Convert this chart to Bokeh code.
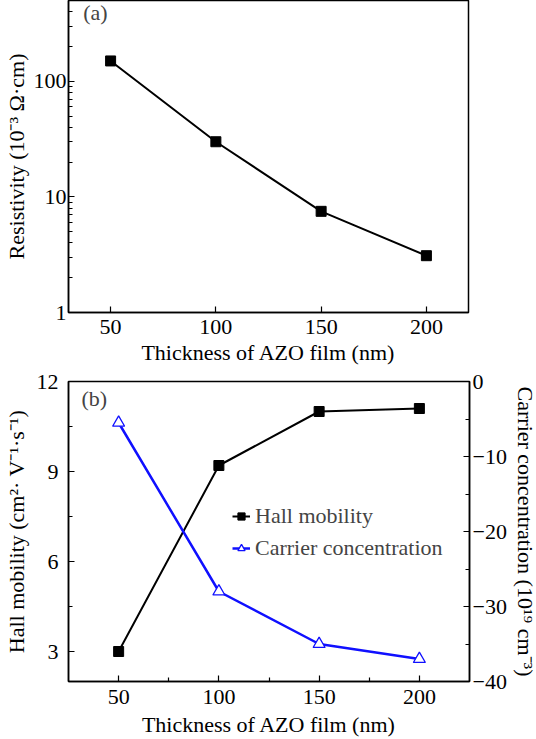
from bokeh.plotting import figure
from bokeh.layouts import column
from bokeh.models import (Range1d, LinearAxis, FixedTicker, PrintfTickFormatter,
                          Legend, LegendItem, Label)
from bokeh.embed import file_html
from bokeh.resources import INLINE

# ---- data ----
thickness = [50, 100, 150, 200]
resistivity = [150, 30, 7.5, 3.1]          # 10^-3 Ohm cm
hall_mobility = [3.0, 9.2, 11.0, 11.1]      # cm2 V-1 s-1
carrier_conc = [-5.5, -28.0, -35.0, -37.0]  # 10^19 cm-3

x_ticks = [50, 100, 150, 200]
x_minor = [75, 125, 175]
res_ticks = [1, 10, 100]
res_minor = [2, 3, 4, 5, 6, 7, 8, 9, 20, 30, 40, 50, 60, 70, 80, 90, 200, 300, 400, 500]
mob_ticks = [3, 6, 9, 12]
mob_minor = [4.5, 7.5, 10.5]
conc_ticks = [0, -10, -20, -30, -40]
conc_minor = [-5, -15, -25, -35]

FONT = "Liberation Serif"
FS = "22px"


def style_axis(ax):
    ax.axis_label_text_font = FONT
    ax.axis_label_text_font_size = FS
    ax.axis_label_text_font_style = "normal"
    ax.axis_label_text_color = "black"
    ax.major_label_text_font = FONT
    ax.major_label_text_font_size = FS
    ax.major_label_text_color = "black"
    ax.major_tick_in = 6
    ax.major_tick_out = 0
    ax.minor_tick_in = 4
    ax.minor_tick_out = 0
    ax.axis_line_color = "black"
    ax.axis_line_width = 1.5
    ax.major_tick_line_color = "black"
    ax.major_tick_line_width = 1.2
    ax.minor_tick_line_color = "black"
    ax.minor_tick_line_width = 1.2


# ---- top panel ----
p1 = figure(frame_width=400, frame_height=312, y_axis_type="log",
            x_range=Range1d(30, 220), y_range=Range1d(1, 500),
            output_backend="svg", toolbar_location=None,
            min_border_left=59, min_border_right=69,
            min_border_top=0, min_border_bottom=47)
p1.grid.visible = False
p1.outline_line_color = "black"
p1.outline_line_width = 1.5

p1.xaxis.ticker = FixedTicker(ticks=x_ticks, minor_ticks=[])
p1.yaxis.ticker = FixedTicker(ticks=res_ticks, minor_ticks=res_minor)
p1.yaxis.formatter = PrintfTickFormatter(format="%d")
p1.xaxis.axis_label = "Thickness of AZO film (nm)"
p1.yaxis.axis_label = "Resistivity (10⁻³ Ω·cm)"
for ax in p1.xaxis + p1.yaxis:
    style_axis(ax)
p1.xaxis.major_label_standoff = 7
p1.xaxis.axis_label_standoff = 3
p1.yaxis.major_label_standoff = 2
p1.yaxis.axis_label_standoff = 2

p1.line(thickness, resistivity, line_color="black", line_width=2)
p1.scatter(thickness, resistivity, marker="square", size=10,
           fill_color="black", line_color="black")
p1.add_layout(Label(x=37, y=395, text="(a)", text_font=FONT, text_font_size=FS,
                    text_baseline="middle", text_align="left"))

# ---- bottom panel ----
p2 = figure(frame_width=401, frame_height=300,
            x_range=Range1d(25, 225), y_range=Range1d(2, 12),
            output_backend="svg", toolbar_location=None,
            min_border_left=60, min_border_right=60,
            min_border_top=14, min_border_bottom=50)
p2.grid.visible = False
p2.outline_line_color = "black"
p2.outline_line_width = 1.5
p2.extra_y_ranges = {"conc": Range1d(-40, 0)}

p2.xaxis.ticker = FixedTicker(ticks=x_ticks, minor_ticks=x_minor)
p2.yaxis.ticker = FixedTicker(ticks=mob_ticks, minor_ticks=mob_minor)
p2.xaxis.axis_label = "Thickness of AZO film (nm)"
p2.yaxis.axis_label = "Hall mobility (cm²· V⁻¹·s⁻¹)"

rax = LinearAxis(y_range_name="conc",
                 ticker=FixedTicker(ticks=conc_ticks, minor_ticks=conc_minor),
                 axis_label="Carrier concentration (10¹⁹ cm⁻³)")
p2.add_layout(rax, "right")
for ax in p2.xaxis + p2.yaxis:
    style_axis(ax)
p2.xaxis.major_label_standoff = 8
p2.xaxis.axis_label_standoff = 5
p2.yaxis[0].major_label_standoff = 10
p2.yaxis[0].axis_label_standoff = 5
rax.major_label_standoff = 3
rax.axis_label_standoff = 3

l1 = p2.line(thickness, hall_mobility, line_color="black", line_width=2)
s1 = p2.scatter(thickness, hall_mobility, marker="square", size=10,
                fill_color="black", line_color="black")
l2 = p2.line(thickness, carrier_conc, y_range_name="conc",
             line_color="#1010ff", line_width=2.5)
s2 = p2.scatter(thickness, carrier_conc, y_range_name="conc", marker="triangle",
                size=12, fill_color="white", line_color="#1010ff", line_width=1.3)

legend = Legend(items=[LegendItem(label="Hall mobility", renderers=[l1, s1]),
                       LegendItem(label="Carrier concentration", renderers=[l2, s2])],
                location=(164, 120), padding=0, margin=0, spacing=6,
                glyph_width=18, label_standoff=5,
                border_line_alpha=0, background_fill_alpha=0,
                label_text_font=FONT, label_text_font_size=FS)
p2.add_layout(legend)
p2.add_layout(Label(x=31.5, y=11.45, text="(b)", text_font=FONT, text_font_size=FS,
                    text_baseline="middle", text_align="left"))

layout = column(p1, p2, spacing=0)
open("out.html", "w").write(file_html(layout, INLINE))
